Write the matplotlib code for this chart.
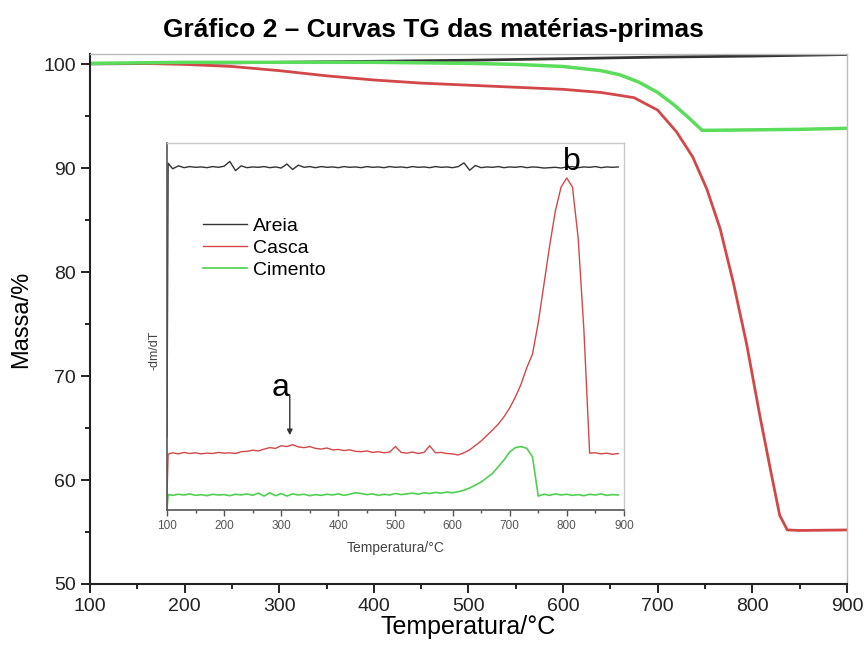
import matplotlib
matplotlib.use("Agg")
import matplotlib.pyplot as plt
from matplotlib.ticker import MultipleLocator

plt.rcParams['font.family'] = ['Liberation Sans', 'DejaVu Sans']

# --- TG curves (mass %) ---
areia_tg_temp = [100, 200, 300, 400, 500, 600, 700, 800, 900]
areia_tg_mass = [100.05, 100.1, 100.2, 100.3, 100.4, 100.55, 100.7, 100.8, 100.95]

casca_tg_temp = [100, 150, 200, 250, 300, 350, 400, 450, 500, 550, 600, 640,
                 675, 700, 720, 737, 752, 766, 780, 794, 808, 819, 829, 837, 850, 900]
casca_tg_mass = [100.1, 100.1, 100.0, 99.8, 99.4, 98.9, 98.5, 98.2, 98.0, 97.8, 97.6, 97.3,
                 96.8, 95.6, 93.5, 91.1, 88.0, 84.2, 79.0, 73.1, 66.2, 61.1, 56.6, 55.2, 55.15, 55.2]

cimento_tg_temp = [100, 200, 300, 400, 500, 550, 600, 640, 660, 680, 700, 716, 730, 747, 800, 850, 900]
cimento_tg_mass = [100.1, 100.2, 100.2, 100.2, 100.1, 100.0, 99.8, 99.4, 99.0, 98.3, 97.3, 96.2,
                   95.1, 93.65, 93.7, 93.75, 93.85]

# --- DTG curves (inset, arbitrary units) ---
dtg_temp = [100, 102] + list(range(110, 900, 10))

areia_dtg = [20, 94.5,
             93.0, 93.8, 93.3, 93.6, 93.4, 93.5, 93.3, 93.6, 93.4, 93.7,
             95.0, 92.5, 93.8, 93.3, 93.5, 93.4, 93.6, 93.3, 93.5, 93.2,
             94.3, 92.8, 94.0, 93.4, 93.6, 93.3, 93.6, 93.4, 93.5, 93.3,
             93.6, 93.4, 93.5, 93.3, 93.6, 93.4, 93.5, 93.3, 93.6, 93.4,
             93.5, 93.3, 93.6, 93.4, 93.5, 93.3, 93.6, 93.4, 93.5, 93.3,
             93.6, 94.6, 92.6, 93.9, 93.3, 93.5, 93.4, 93.6, 93.3, 93.5,
             93.4, 93.6, 93.3, 93.5, 93.4, 93.2, 93.3, 93.4, 93.2, 93.5,
             93.6, 93.3, 93.5, 93.4, 93.6, 93.3, 93.5, 93.4, 93.5]

casca_dtg = [4, 15.2,
             15.6, 15.3, 15.7, 15.4, 15.6, 15.3, 15.5, 15.4, 15.7, 15.5,
             15.6, 15.4, 15.9, 16.0, 16.3, 16.1, 16.6, 17.0, 16.8, 17.5,
             17.3, 17.8, 17.2, 17.0, 17.3, 16.8, 16.6, 16.9, 16.4, 16.5,
             16.2, 16.4, 16.0, 15.9, 16.1, 15.7, 15.9, 15.6, 15.8, 17.3,
             15.7, 15.5, 15.8, 15.4, 15.7, 17.5, 15.6, 15.7, 15.4, 15.3,
             15.0, 15.6, 16.4, 17.6, 18.8, 20.3, 21.8, 23.4, 25.4, 27.8,
             30.8, 34.3, 38.8, 42.5, 51.0, 61.5, 72.0, 81.5, 88.0, 90.5,
             88.0, 74.0, 49.0, 15.5, 15.6, 15.3, 15.5, 15.2, 15.4]

cimento_dtg = [0, 4.2,
               4.0, 4.3, 4.1, 4.4, 4.0, 4.2, 3.9, 4.3, 4.1, 4.2,
               3.9, 4.3, 4.1, 4.4, 4.0, 4.6, 3.8, 4.7, 3.9, 4.5,
               3.8, 4.4, 4.1, 4.3, 3.9, 4.2, 4.0, 4.3, 4.1, 4.4,
               4.0, 4.3, 4.7, 4.5, 4.2, 4.4, 4.0, 4.3, 4.1, 4.5,
               4.2, 4.4, 4.6, 4.3, 4.7, 4.5, 4.8, 4.6, 4.9, 4.7,
               5.0, 5.4, 6.0, 6.8, 7.6, 8.8, 10.0, 11.8, 13.6, 15.8,
               17.0, 17.3, 16.8, 14.5, 3.8, 4.3, 4.0, 4.4, 4.1, 4.3,
               4.0, 4.2, 3.9, 4.3, 4.1, 4.4, 4.0, 4.2, 4.1]

labels = ['Areia', 'Casca', 'Cimento']
tg_colors = ['#333333', '#d24848', '#5cdc5c']
dtg_colors = ['#333333', '#d24848', '#4fd04f']

fig = plt.figure(figsize=(8.67, 6.46), dpi=100)

# main TG axes
ax = fig.add_axes([0.1038, 0.096, 0.873, 0.8204])
ax.plot(areia_tg_temp, areia_tg_mass, color=tg_colors[0], lw=2)
ax.plot(casca_tg_temp, casca_tg_mass, color=tg_colors[1], lw=2)
ax.plot(cimento_tg_temp, cimento_tg_mass, color=tg_colors[2], lw=2.5)
ax.set_xlim(100, 900)
ax.set_ylim(50, 101)
ax.xaxis.set_major_locator(MultipleLocator(100))
ax.xaxis.set_minor_locator(MultipleLocator(50))
ax.yaxis.set_major_locator(MultipleLocator(10))
ax.yaxis.set_minor_locator(MultipleLocator(5))
ax.tick_params(which='major', direction='out', length=6.5, width=1.4, labelsize=14, colors='#222222')
ax.tick_params(which='minor', direction='out', length=3.6, width=1.4, colors='#222222')
for s in ['left', 'bottom']:
    ax.spines[s].set_linewidth(1.5)
    ax.spines[s].set_color('#222222')
for s in ['top', 'right']:
    ax.spines[s].set_linewidth(1.0)
    ax.spines[s].set_color('#bbbbbb')
ax.set_xlabel('Temperatura/°C', fontsize=18, labelpad=0)
ax.set_ylabel('Massa/%', fontsize=17, labelpad=8)

fig.text(0.5, 0.953, 'Gráfico 2 – Curvas TG das matérias-primas', ha='center', va='center',
         fontsize=19, fontweight='bold')

# inset DTG axes
ins = fig.add_axes([0.1926, 0.2105, 0.527, 0.568])
ins.plot(dtg_temp, areia_dtg, color=dtg_colors[0], lw=1, label=labels[0])
ins.plot(dtg_temp, casca_dtg, color=dtg_colors[1], lw=1, label=labels[1])
ins.plot(dtg_temp, cimento_dtg, color=dtg_colors[2], lw=1.2, label=labels[2])
ins.set_xlim(100, 900)
ins.set_ylim(0, 100)
ins.set_yticks([])
ins.xaxis.set_major_locator(MultipleLocator(100))
ins.xaxis.set_minor_locator(MultipleLocator(50))
ins.tick_params(which='major', direction='out', length=4, width=1, labelsize=8.5, colors='#555555')
ins.tick_params(which='minor', direction='out', length=2.5, width=1, colors='#555555')
for s in ['left', 'bottom']:
    ins.spines[s].set_linewidth(1.2)
    ins.spines[s].set_color('#555555')
for s in ['top', 'right']:
    ins.spines[s].set_linewidth(1.0)
    ins.spines[s].set_color('#c8c8c8')
ins.set_xlabel('Temperatura/°C', fontsize=10, color='#444444', labelpad=6)
ins.set_ylabel('-dm/dT', fontsize=9, color='#444444')
ins.yaxis.set_label_coords(-0.014, 0.436)
ins.legend(loc='upper left', bbox_to_anchor=(0.04, 0.845), frameon=False, fontsize=14,
           handlelength=2.3, handletextpad=0.3, labelspacing=0.22)

ins.text(298, 33.2, 'a', fontsize=23, ha='center', va='center')
ins.annotate('', xy=(315, 20.4), xytext=(315, 31.3),
             arrowprops=dict(arrowstyle='-|>', color='#333333', lw=1, mutation_scale=8,
                             shrinkA=0, shrinkB=0))
ins.text(809, 94.8, 'b', fontsize=23, ha='center', va='center')

fig.savefig('out.png', dpi=100)
